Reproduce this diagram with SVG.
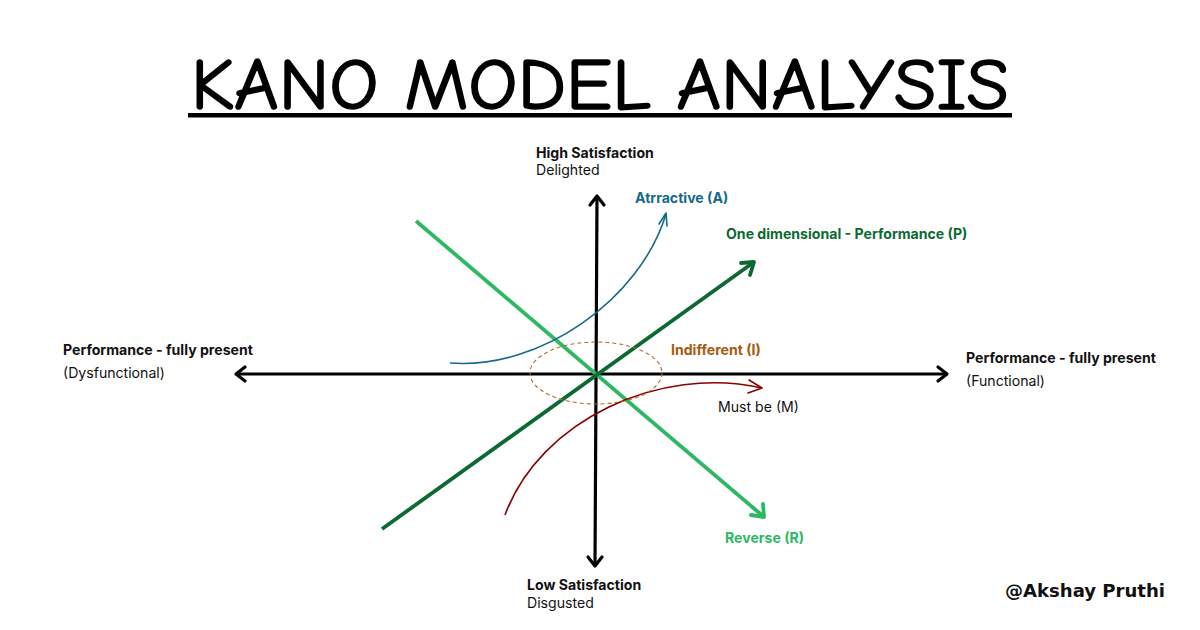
<svg xmlns="http://www.w3.org/2000/svg" width="1200" height="630" viewBox="0 0 1200 630">
<style>
.t{font-family:Inter,"Noto Sans","Liberation Sans",sans-serif;font-size:14.1px;fill:#111}
.b{font-weight:700}
.ax{stroke:#000;stroke-width:3.2;fill:none}
.hd{fill:none;stroke-linecap:round;stroke-linejoin:round}
</style>
<rect width="1200" height="630" fill="#fff"/>
<g id="title">
<text x="600" y="109" text-anchor="middle" font-family="'Comic Neue','DejaVu Sans Condensed','DejaVu Sans',sans-serif" font-size="72" textLength="818" lengthAdjust="spacingAndGlyphs" fill="#000" stroke="#000" stroke-width="1.6" stroke-linejoin="round">KANO MODEL ANALYSIS</text>
<rect x="188" y="113" width="824" height="4.5" fill="#000"/>
</g>
<g id="connectors">
<path class="ax" d="M597,197 L595,566"/>
<path class="ax hd" d="M590,205 L597,196 L604,205"/>
<path class="ax hd" d="M588,557 L595,566 L602,557"/>
<path class="ax" d="M236,374 L947,374"/>
<path class="ax hd" d="M245,367 L236,374 L245,381"/>
<path class="ax hd" d="M938,367 L947,374 L938,381"/>
<path d="M416,221 L764,517" stroke="#2fb864" stroke-width="3.8" fill="none"/>
<path class="hd" d="M751,515 L764,517 L763,504" stroke="#2fb864" stroke-width="3.8"/>
<path d="M382,529 L754,262" stroke="#0b6a31" stroke-width="3.8" fill="none"/>
<path class="hd" d="M741,263 L754,262 L750,275" stroke="#0b6a31" stroke-width="3.8"/>
<path d="M450,363 C540,370 640,300 666,214" stroke="#17698a" stroke-width="1.6" fill="none"/>
<path class="hd" d="M659,224 L666,213 L667,226" stroke="#17698a" stroke-width="1.6"/>
<path d="M505,515 C540,420 660,365 762,388" stroke="#8b0000" stroke-width="1.6" fill="none"/>
<path class="hd" d="M749,380 L762,388 L748,393" stroke="#8b0000" stroke-width="1.6"/>
<ellipse cx="596" cy="373" rx="66" ry="31" fill="none" stroke="#b5692a" stroke-width="1.1" stroke-dasharray="4 3"/>
</g>
<g id="high"><text class="t b" x="536" y="158">High Satisfaction</text><text class="t" x="536" y="175">Delighted</text></g>
<g id="low"><text class="t b" x="527" y="590">Low Satisfaction</text><text class="t" x="527" y="608">Disgusted</text></g>
<g id="left"><text class="t b" x="63" y="355">Performance - fully present</text><text class="t" x="63" y="378">(Dysfunctional)</text></g>
<g id="right"><text class="t b" x="966" y="363">Performance - fully present</text><text class="t" x="966" y="386">(Functional)</text></g>
<g id="attractive"><text class="t b" x="635" y="203" style="fill:#17698a">Atrractive (A)</text></g>
<g id="onedim"><text class="t b" x="726" y="239" style="fill:#0b6a31">One dimensional - Performance (P)</text></g>
<g id="indifferent"><text class="t b" x="671" y="355" style="fill:#a85a0c">Indifferent (I)</text></g>
<g id="mustbe"><text class="t" x="718" y="412">Must be (M)</text></g>
<g id="reverse"><text class="t b" x="725" y="543" style="fill:#2fb864">Reverse (R)</text></g>
<g id="author"><text x="1005" y="597" font-family="'DejaVu Sans','Noto Sans',sans-serif" font-weight="700" font-size="17" textLength="160" lengthAdjust="spacingAndGlyphs" fill="#111">@Akshay Pruthi</text></g>
</svg>
